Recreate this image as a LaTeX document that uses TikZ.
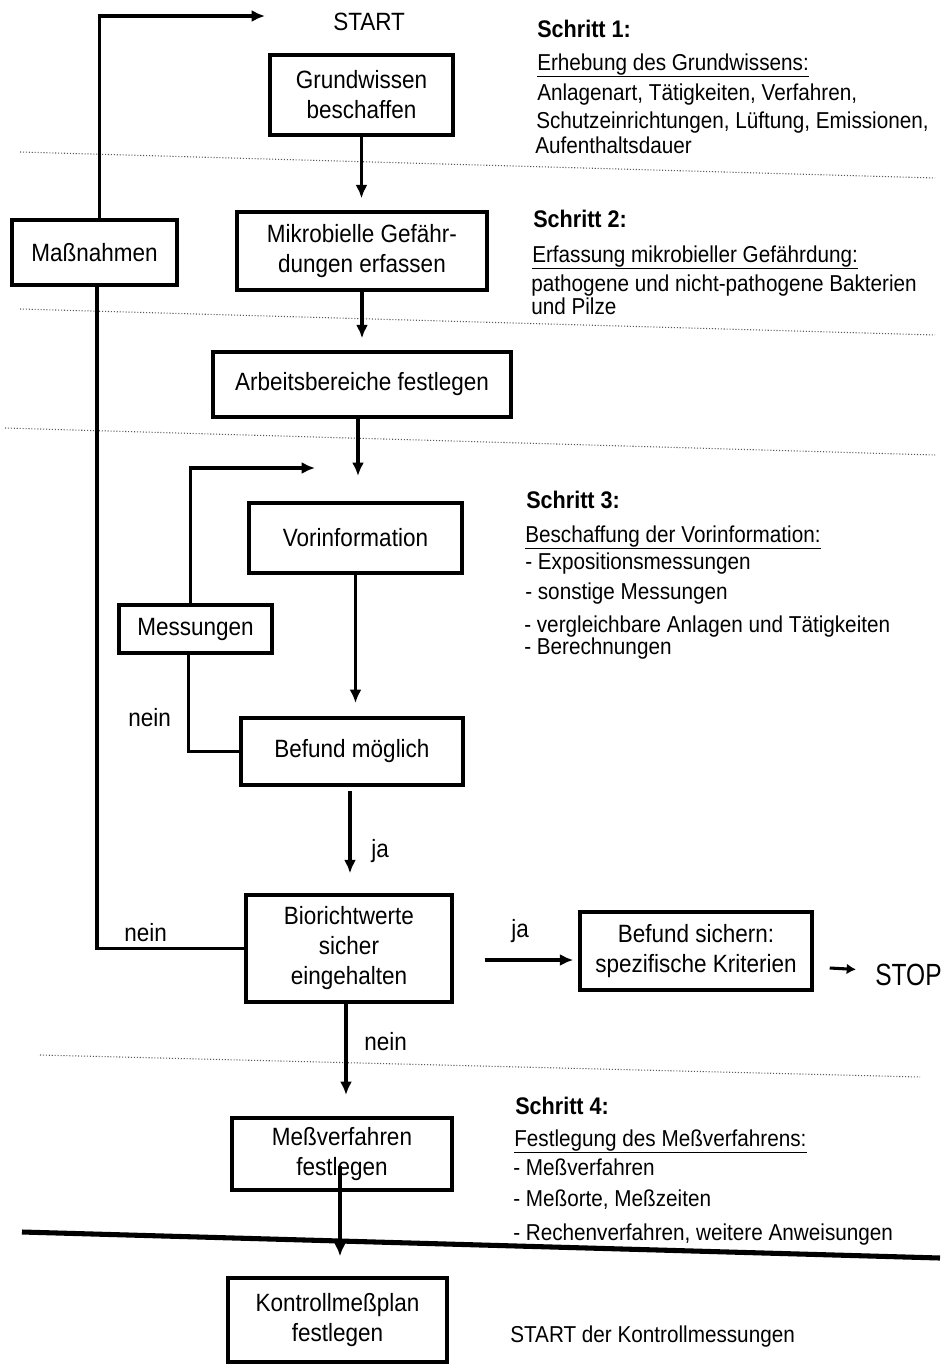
\documentclass[tikz,border=0pt]{standalone}
\usepackage{fontspec}
\setmainfont{Liberation Sans}[FakeStretch=0.9]
\newfontfamily\stopfam{Liberation Sans}[FakeStretch=0.8]
\usetikzlibrary{arrows.meta,calc}
\newcommand\myboxfont{\fontsize{18.75pt}{22.5pt}\selectfont}
\newcommand\mycolfont{\fontsize{17.25pt}{20pt}\selectfont}
\begin{document}
\begin{tikzpicture}[x=0.75pt,y=-0.75pt,
  box/.style 2 args={draw,line width=2.6pt,minimum width=#1*0.75pt,minimum height=#2*0.75pt,align=center,inner sep=0pt,font=\myboxfont},
  conn/.style={line width=2.3pt},
  arr/.style={line width=2.3pt,-{Latex[length=10pt,width=9pt]}},
  lab/.style={anchor=base west,inner sep=0pt,font=\myboxfont},
  col/.style={anchor=base west,inner sep=0pt,font=\mycolfont},
  colb/.style={anchor=base west,inner sep=0pt,font=\fontsize{18pt}{20pt}\selectfont\bfseries},
  sep/.style={line width=0.8pt,black!65,dash pattern=on 0.8pt off 1.4pt}]
\useasboundingbox (0,0) rectangle (952,1372);

% separators
\draw[sep] (20,152) -- (935,178);
\draw[sep] (20,309) -- (935,335);
\draw[sep] (5,428) -- (935,455);
\draw[sep] (40,1055) -- (920,1077);
\draw[line width=3.8pt] (22,1232) -- (940,1258);

% boxes
\node[box={183}{80}] (gw) at (361.5,95) {Grundwissen\\beschaffen};
\node[box={250}{78}] (mik) at (362,251) {Mikrobielle Gefähr-\\dungen erfassen};
\node[box={165}{65}] (mas) at (94.5,252.5) {Maßnahmen};
\node[box={298}{65}] (arb) at (362,384.5) {Arbeitsbereiche festlegen};
\node[box={213}{70}] (vor) at (355.5,538) {Vorinformation};
\node[box={153}{48}] (mes) at (195.5,629) {Messungen};
\node[box={222}{67}] (bef) at (352,751.5) {Befund möglich};
\node[box={206}{107}] (bio) at (349,948.5) {Biorichtwerte\\sicher\\eingehalten};
\node[box={232}{78}] (sich) at (696,951) {Befund sichern:\\spezifische Kriterien};
\node[box={220}{72}] (mess) at (342,1154) {Meßverfahren\\festlegen};
\node[box={219}{84}] (kpl) at (337.5,1320) {Kontrollmeßplan\\festlegen};

% plain labels
\node[lab] (start) at (333,30) {START};
\node[lab,font=\stopfam\fontsize{23pt}{26pt}\selectfont] (stop) at (875,985) {STOP};
\node[lab] (nein1) at (128,726) {nein};
\node[lab] (ja1) at (371,857) {ja};
\node[lab] (nein2) at (124,941) {nein};
\node[lab] (ja2) at (511,937) {ja};
\node[lab] (nein3) at (364,1050) {nein};

% connectors
\coordinate (startin) at (265,16);
\coordinate (vorin) at (315,468);
\draw[arr] ($(mas.north)+(5,0)$) |- (startin);
\draw[arr,shorten >=9pt] (gw.south) -- (gw.south |- mik.north);
\draw[arr,shorten >=9pt] (mik.south) -- (mik.south |- arb.north);
\draw[arr,shorten >=19pt] ($(arb.south)+(-4,0)$) -- ($(arb.south |- vor.north)+(-4,0)$);
\draw[arr] ($(mes.north)+(-5,0)$) |- (vorin);
\draw[arr,shorten >=10pt] (vor.south) -- (vor.south |- bef.north);
\draw[conn] (bef.west) -| ($(mes.south)+(-7,0)$);
\draw[arr,shorten <=3.5pt,shorten >=15pt] ($(bef.south)+(-2,0)$) -- ($(bef.south |- bio.north)+(-2,0)$);
\draw[conn] ($(mas.south)+(2.5,0)$) |- (bio.west);
\draw[arr] ($(bio.east)+(31,11.5)$) -- ($(sich.west)+(-5,9)$);
\draw[line width=2.3pt,-{Latex[length=7pt,width=8pt]}] ($(sich.east)+(16,17)$) -- ($(stop.west)+(-19,-5)$);
\draw[arr,shorten >=16pt] ($(bio.south)+(-3,0)$) -- ($(bio.south |- mess.north)+(-3,0)$);
\draw[arr,shorten <=-19pt,shorten >=15pt] ($(mess.south)+(-2,0)$) -- ($(mess.south |- kpl.north)+(-2,0)$);

% right column: Schritt 1
\node[colb] (s1) at (537,37) {Schritt 1:};
\node[col] (s1a) at (537,70) {\underline{Erhebung des Grundwissens:}};
\node[col] (s1b) at (537,100) {Anlagenart, Tätigkeiten, Verfahren,};
\node[col] (s1c) at (536,128) {Schutzeinrichtungen, Lüftung, Emissionen,};
\node[col] (s1d) at (535,153) {Aufenthaltsdauer};
% Schritt 2
\node[colb] (s2) at (533,227) {Schritt 2:};
\node[col] (s2a) at (532,262) {\underline{Erfassung mikrobieller Gefährdung:}};
\node[col] (s2b) at (531,291) {pathogene und nicht-pathogene Bakterien};
\node[col] (s2c) at (531,314) {und Pilze};
% Schritt 3
\node[colb] (s3) at (526,508) {Schritt 3:};
\node[col] (s3a) at (525,542) {\underline{Beschaffung der Vorinformation:}};
\node[col] (s3b) at (525,569) {- Expositionsmessungen};
\node[col] (s3c) at (525,599) {- sonstige Messungen};
\node[col] (s3d) at (524,632) {- vergleichbare Anlagen und Tätigkeiten};
\node[col] (s3e) at (524,654) {- Berechnungen};
% Schritt 4
\node[colb] (s4) at (515,1114) {Schritt 4:};
\node[col] (s4a) at (514,1146) {\underline{Festlegung des Meßverfahrens:}};
\node[col] (s4b) at (513,1175) {- Meßverfahren};
\node[col] (s4c) at (513,1206) {- Meßorte, Meßzeiten};
\node[col] (s4d) at (513,1240) {- Rechenverfahren, weitere Anweisungen};
\node[col] (kstart) at (510,1342) {START der Kontrollmessungen};
\end{tikzpicture}
\end{document}
